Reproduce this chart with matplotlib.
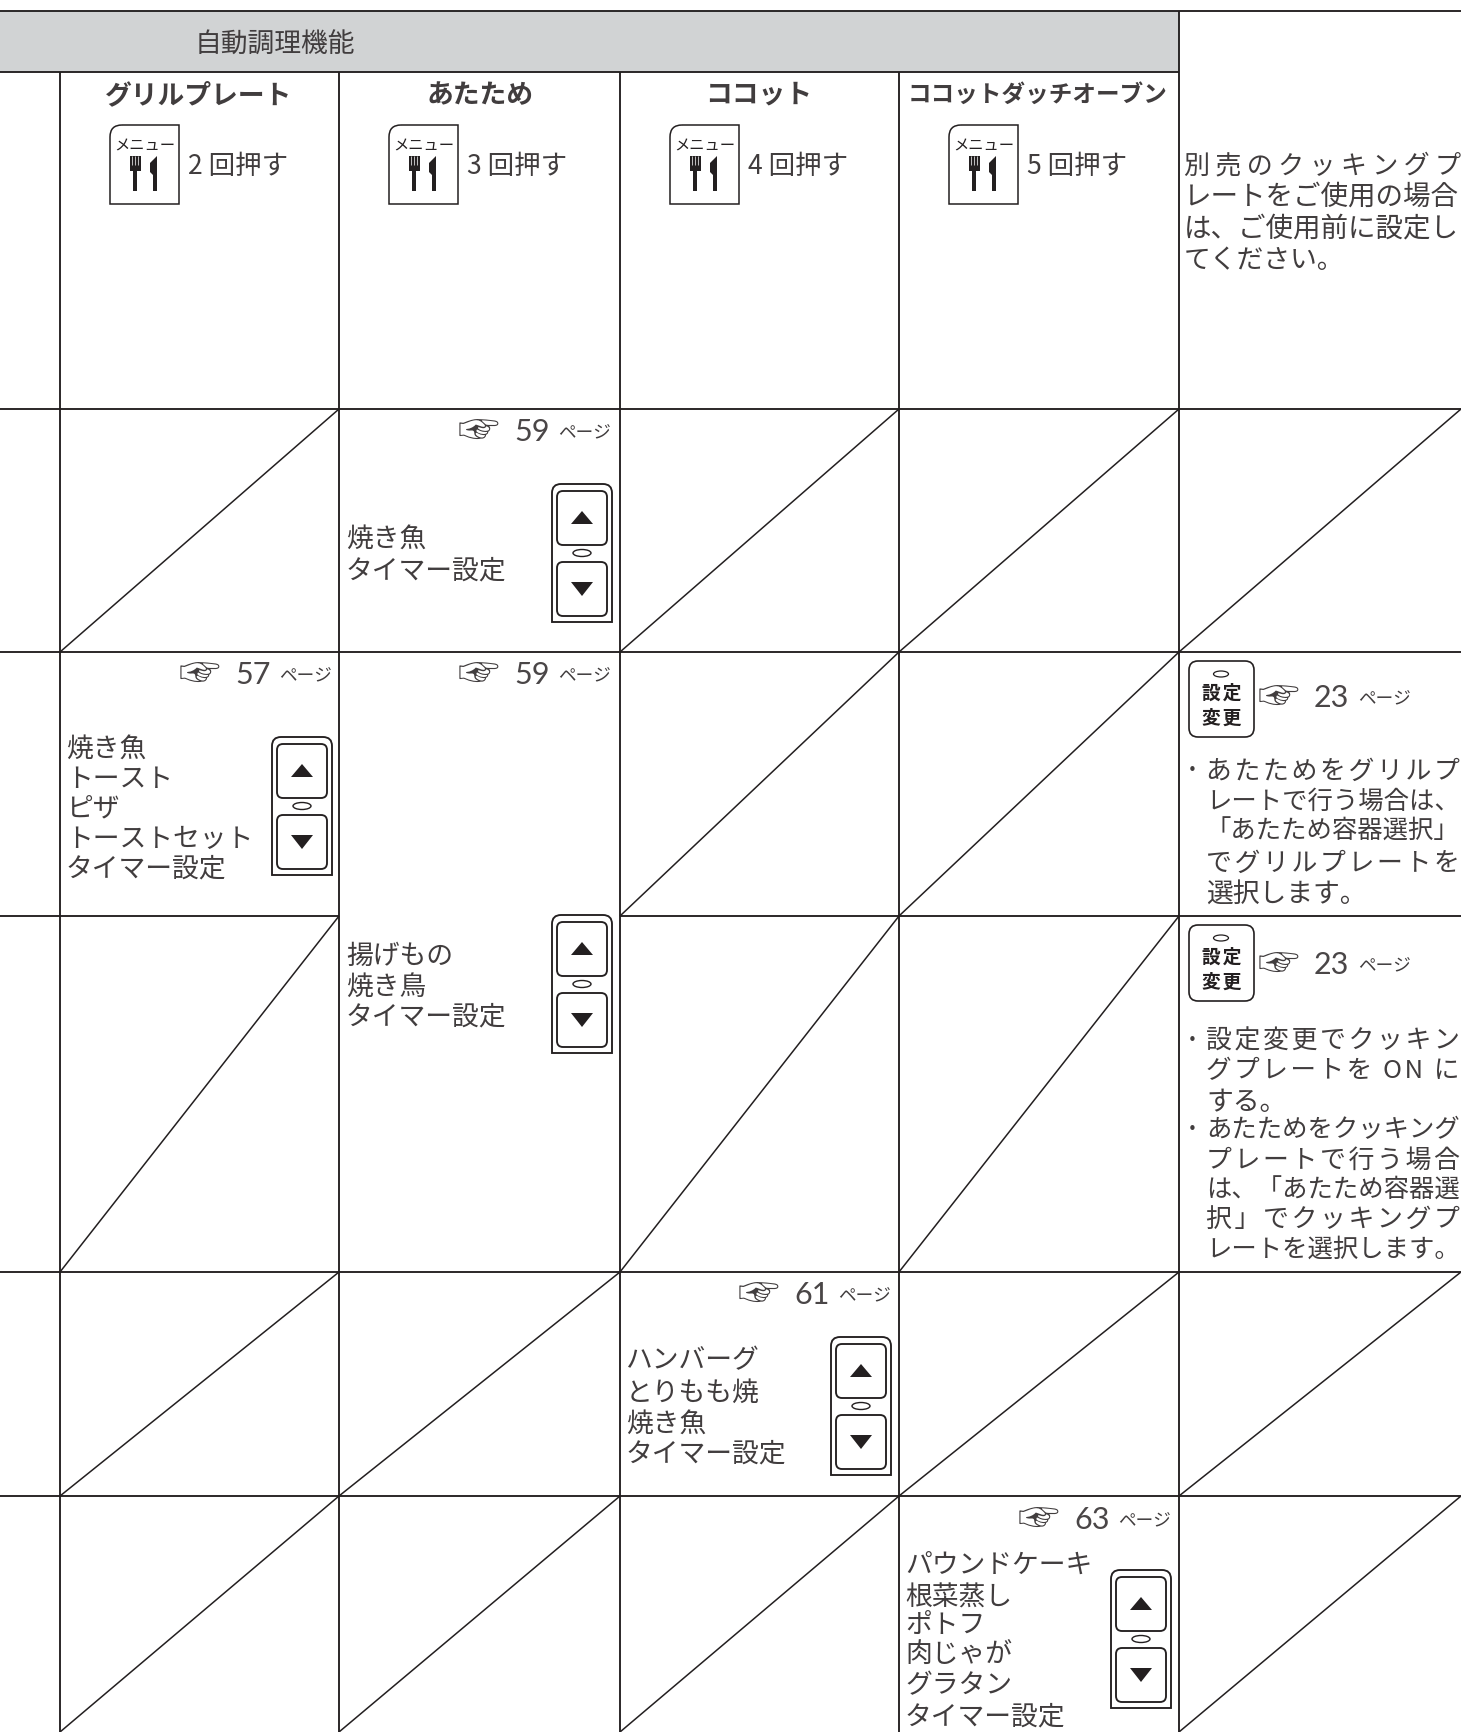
import matplotlib
matplotlib.use("Agg")
import matplotlib.pyplot as plt
from matplotlib.patches import Rectangle, FancyBboxPatch, Ellipse, Polygon, PathPatch
from matplotlib.path import Path

plt.rcParams['font.family'] = ['Noto Sans CJK JP', 'DejaVu Sans']

INK = '#231f20'
TXT = '#413d3e'
DIGIT = '#4a4647'
GRAY = '#d1d3d4'
HAIR = '\u200a'

# Table content
header = "自動調理機能"
columns = ["グリルプレート", "あたため", "ココット", "ココットダッチオーブン"]
presses = ["2 回押す", "3 回押す", "4 回押す", "5 回押す"]
page_refs = ["57", "59", "59", "61", "63"]
setting_ref = "23"
grill_menu = ["焼き魚", "トースト", "ピザ", "トーストセット", "タイマー設定"]
warm_fish_menu = ["焼き魚", "タイマー設定"]
warm_fry_menu = ["揚げもの", "焼き鳥", "タイマー設定"]
cocotte_menu = ["ハンバーグ", "とりもも焼", "焼き魚", "タイマー設定"]
dutch_menu = ["パウンドケーキ", "根菜蒸し", "ポトフ", "肉じゃが", "グラタン", "タイマー設定"]
plate_note = ["別売のクッキングプ", "レートをご使用の場合", "は、ご使用前に設定し", "てください。"]
grill_note = ["あたためをグリルプ", "レートで行う場合は、", "「あたため容器選択」", "でグリルプレートを", "選択します。"]
cook_note = ["設定変更でクッキン", "グプレートを ON に", "する。", "あたためをクッキング", "プレートで行う場合", "は、「あたため容器選", "択」でクッキングプ", "レートを選択します。"]

# grid, in pixels of the page
col_x = [60, 339, 620, 899, 1179, 1461]
row_y = [73, 410, 653, 917, 1273, 1497, 1733]
# 1 = struck-through cell, rows below the header row, 5 columns
diag = [
    [1, 0, 1, 1, 1],
    [0, 0, 1, 1, 0],
    [1, 0, 1, 1, 0],
    [1, 1, 0, 1, 1],
    [1, 1, 1, 0, 1],
]

fig = plt.figure(figsize=(14.61, 17.33), dpi=100)
ax = fig.add_axes([0, 0, 1, 1])
ax.set_xlim(0, 1461)
ax.set_ylim(1733, 0)
ax.axis('off')
LW = 1.35
BODY = 19.3


def line(x0, y0, x1, y1, lw=LW, color=INK, z=3):
    ax.plot([x0, x1], [y0, y1], color=color, lw=lw, solid_capstyle='butt', zorder=z)


def put(x, y, s, size=BODY, ha='left', weight='normal', color=TXT, family=None):
    kw = {'family': family} if family else {}
    return ax.text(x, y + 3, s, fontsize=size, ha=ha, va='center', fontweight=weight,
                   color=color, zorder=4, **kw)


def fit(x0, x1, y, s, size=BODY, weight='normal'):
    # justify a line: pad it with hair spaces, then fit the size to the width
    r = fig.canvas.get_renderer()
    best = None
    for k in range(4):
        padded = (HAIR * k).join(s)
        t = put(x0, y, padded, size, weight=weight)
        new = size * (x1 - x0) / t.get_window_extent(r).width
        t.remove()
        if best is None or abs(new - size) < abs(best[1] - size):
            best = (padded, new)
    return put(x0, y, best[0], best[1], weight=weight)


def rrect(x0, y0, x1, y1, r, lw=LW):
    p = FancyBboxPatch((x0 + r, y0 + r), x1 - x0 - 2 * r, y1 - y0 - 2 * r,
                       boxstyle="round,pad=%f,rounding_size=%f" % (r, r),
                       fc='white', ec=INK, lw=lw, zorder=4)
    ax.add_patch(p)


def menu_icon(x, y):
    # box with one rounded corner
    w, h, r = 69, 79, 12
    verts = [(x + r, y), (x + w, y), (x + w, y + h), (x, y + h), (x, y + r), (x, y), (x + r, y)]
    codes = [Path.MOVETO, Path.LINETO, Path.LINETO, Path.LINETO, Path.LINETO, Path.CURVE3, Path.CURVE3]
    ax.add_patch(PathPatch(Path(verts, codes), fc='white', ec=INK, lw=1.1, zorder=4))
    put(x + 35, y + 17, "メニュー", 11, ha='center', color=INK)
    # fork
    fx = x + 25
    ax.add_patch(Rectangle((fx - 5.5, y + 31), 11, 15, fc=INK, ec='none', zorder=5))
    for d in (-2.8, 0, 2.8):
        line(fx + d, y + 31, fx + d, y + 40, lw=0.5, color='white', z=6)
    ax.add_patch(Rectangle((fx - 1.8, y + 44), 3.6, 22, fc=INK, ec='none', zorder=5))
    # knife
    kx = x + 45
    ax.add_patch(Polygon([(kx + 2, y + 31), (kx + 2, y + 66), (kx - 2, y + 66), (kx - 2, y + 50),
                          (kx - 5, y + 47), (kx - 5, y + 38)], fc=INK, ec='none', zorder=5))


def arrow_panel(x1, y0):
    # up/down key, x1 right edge, y0 top edge; square bottom corners
    x0, y1, r = x1 - 60, y0 + 138, 9
    verts = [(x0, y1), (x0, y0 + r), (x0, y0), (x0 + r, y0), (x1 - r, y0), (x1, y0), (x1, y0 + r), (x1, y1), (x0, y1)]
    codes = [Path.MOVETO, Path.LINETO, Path.CURVE3, Path.CURVE3, Path.LINETO, Path.CURVE3, Path.CURVE3, Path.LINETO, Path.CLOSEPOLY]
    ax.add_patch(PathPatch(Path(verts, codes), fc='white', ec=INK, lw=LW, zorder=4))
    rrect(x0 + 5, y0 + 7, x1 - 5, y0 + 61, 6)
    rrect(x0 + 5, y0 + 78, x1 - 5, y0 + 132, 6)
    cx = x0 + 30
    ax.add_patch(Ellipse((cx, y0 + 69), 18, 7, fc='white', ec=INK, lw=1.0, zorder=5))
    ax.add_patch(Polygon([(cx - 11, y0 + 40), (cx + 11, y0 + 40), (cx, y0 + 27)], fc=INK, ec='none', zorder=5))
    ax.add_patch(Polygon([(cx - 11, y0 + 98), (cx + 11, y0 + 98), (cx, y0 + 112)], fc=INK, ec='none', zorder=5))


def page_ref(x_right, y, num):
    put(x_right - 152, y - 3, "☞", 30)
    put(x_right - 96, y - 3, num, 22, family='Lato', color=DIGIT)
    put(x_right + 1, y - 3, "ページ", 12.7, ha='right')


def setting_button(y):
    rrect(1189, y, 1254, y + 76, 9, lw=1.2)
    ax.add_patch(Ellipse((1221, y + 13), 15, 6, fc='white', ec=INK, lw=0.9, zorder=5))
    put(1222, y + 28, "設" + HAIR + "定", 13.5, ha='center', weight='bold', color=INK)
    put(1222, y + 53, "変" + HAIR + "更", 13.5, ha='center', weight='bold', color=INK)


# grid
ax.add_patch(Rectangle((0, 12), 1179, 61, fc=GRAY, ec='none', zorder=1))
line(0, 12, 1461, 12)
line(0, 73, 1179, 73)
line(1179, 12, 1179, 1733)
for x in col_x[:4]:
    line(x, 73, x, 1733)
for y in row_y[1:-1]:
    if y == 917:
        line(0, y, 339, y)
        line(620, y, 1461, y)
    else:
        line(0, y, 1461, y)
for r, cells in enumerate(diag):
    for c, on in enumerate(cells):
        if on:
            line(col_x[c], row_y[r + 2], col_x[c + 1], row_y[r + 1], lw=1.1)

# header
put(275, 42, header, ha='center')
centers = [199, 480, 759]
for i in range(3):
    put(centers[i], 92, columns[i], ha='center', weight='bold')
fit(908, 1168, 92, columns[3], 18.5, weight='bold')
for i in range(4):
    menu_icon(col_x[i] + 50, 126)
    fit(col_x[i] + 128, col_x[i] + 228, 163, presses[i])

# cell contents
page_ref(610, 432, page_refs[1])
for y, s in zip([536, 568], warm_fish_menu):
    put(346, y, s)
arrow_panel(612, 485)

page_ref(331, 675, page_refs[0])
for y, s in zip([746, 776, 806, 836, 866], grill_menu):
    put(66, y, s)
arrow_panel(332, 738)

page_ref(610, 675, page_refs[2])
for y, s in zip([953, 984, 1014], warm_fry_menu):
    put(346, y, s)
arrow_panel(612, 916)

page_ref(890, 1295, page_refs[3])
for y, s in zip([1358, 1390, 1421, 1451], cocotte_menu):
    put(626, y, s)
arrow_panel(891, 1338)

page_ref(1170, 1520, page_refs[4])
for y, s in zip([1562, 1595, 1622, 1652, 1683, 1714], dutch_menu):
    put(905, y, s)
arrow_panel(1171, 1571)

# right column notes
for y, s in zip([163, 194, 226], plate_note[:3]):
    fit(1184, 1459, y, s)
put(1184, 257, plate_note[3])

setting_button(662)
put(1258, 695, "☞", 30)
put(1314, 695, setting_ref, 22, family='Lato', color=DIGIT)
put(1411, 695, "ページ", 12.7, ha='right')
put(1182, 768, "・", 15)
for y, s in zip([768, 799, 829, 860], grill_note[:4]):
    fit(1206, 1459, y, s)
put(1206, 891, grill_note[4])

setting_button(926)
put(1258, 962, "☞", 30)
put(1314, 962, setting_ref, 22, family='Lato', color=DIGIT)
put(1411, 962, "ページ", 12.7, ha='right')
put(1182, 1038, "・", 15)
put(1182, 1127, "・", 15)
ys = [1038, 1068, 1099, 1127, 1157, 1188, 1217, 1247]
for y, s in zip(ys, cook_note):
    if s == "する。":
        put(1206, y, s)
    else:
        fit(1206, 1459, y, s)

fig.savefig("out.png", dpi=100)
